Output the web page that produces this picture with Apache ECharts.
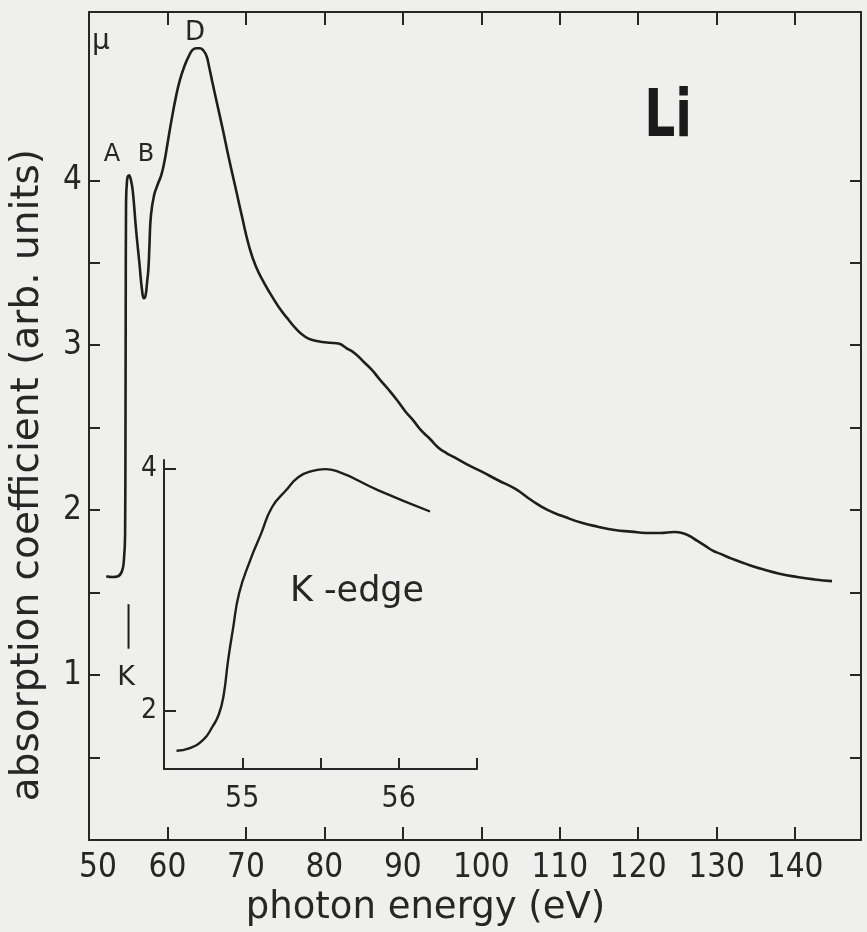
<!DOCTYPE html>
<html><head><meta charset="utf-8">
<script src="https://cdn.jsdelivr.net/npm/echarts@6/dist/echarts.min.js"></script>
<style>html,body{margin:0;padding:0;background:#efefed}#c{width:867px;height:932px}</style>
</head><body><div id="c"></div>
<script>
// ---- data ----
const mainEnergy = [52.2,53.0,53.7,54.2,54.45,54.6,54.65,54.68,54.72,54.85,55.1,55.35,55.59,56.0,56.44,56.77,57.0,57.2,57.4,57.58,57.7,57.9,58.3,58.8,59.2,59.6,60.0,60.5,61.1,61.6,62.15,62.7,63.2,63.7,64.1,64.6,65.0,65.3,65.7,66.3,67.0,67.8,68.7,69.5,70.4,71.25,72.3,73.4,74.5,75.5,76.5,77.6,78.6,79.7,80.8,81.8,82.9,83.9,85.0,86.06,87.1,88.2,89.3,90.3,91.4,92.4,93.5,94.5,95.6,96.6,98.3,100.0,102.2,104.3,106.4,108.5,110.6,112.7,114.85,117.0,119.1,121.0,122.8,124.6,125.6,126.5,127.5,128.5,129.5,130.5,132.0,134.0,136.0,138.0,140.25,142.5,144.7];
const mainMu = [1.60,1.595,1.60,1.63,1.70,1.85,2.5,3.2,3.85,4.0,4.03,4.0,3.93,3.70,3.49,3.33,3.285,3.30,3.38,3.47,3.6,3.79,3.91,3.98,4.03,4.11,4.22,4.36,4.51,4.61,4.69,4.75,4.79,4.80,4.80,4.785,4.75,4.69,4.60,4.47,4.32,4.14,3.95,3.78,3.60,3.48,3.38,3.29,3.21,3.15,3.095,3.05,3.03,3.02,3.015,3.01,2.98,2.95,2.90,2.85,2.79,2.73,2.665,2.60,2.54,2.48,2.43,2.38,2.345,2.32,2.275,2.235,2.18,2.13,2.06,2.00,1.96,1.925,1.90,1.88,1.87,1.862,1.862,1.868,1.862,1.845,1.815,1.785,1.755,1.735,1.705,1.67,1.64,1.615,1.595,1.58,1.57];
const insetEnergy = [54.58,54.66,54.75,54.81,54.85,54.88,54.91,54.94,54.98,55.05,55.12,55.19,55.28,55.36,55.45,55.53,55.60,55.87,56.20];
const insetMu = [1.67,1.69,1.76,1.87,1.97,2.12,2.42,2.67,2.97,3.24,3.46,3.68,3.82,3.93,3.98,3.995,3.98,3.82,3.645];
const kMarkerEnergy = [55.04,55.04];
const kMarkerMu = [1.16,1.43];
const xTickValues = [60,70,80,90,100,110,120,130,140];
const xLabelValues = [50,60,70,80,90,100,110,120,130,140];
const yTickValues = [0.5,1,1.5,2,2.5,3,3.5,4];
const yLabelValues = [1,2,3,4];
const insetXTicks = [55,55.5,56,56.5];
const insetXLabels = [55,56];
const insetYTicks = [2,4];

const ink = '#262626';
const narrow = '"Liberation Sans Narrow","DejaVu Sans Condensed",sans-serif';
const wide = '"DejaVu Sans",sans-serif';
const zip = (a,b) => a.map((v,i)=>[v,b[i]]);

const chart = echarts.init(document.getElementById('c'), null, {renderer:'canvas'});
const lineStyle = {color: ink, width: 2};
function frameX(pos, opts) {
  return Object.assign({
    type:'value', gridIndex:0, position:pos, min:50, max:148.4,
    axisLine:{show:true, onZero:false, lineStyle}, splitLine:{show:false},
    axisTick:{show:true, inside:true, length:13, lineStyle, customValues:xTickValues},
    axisLabel:{show:false}
  }, opts||{});
}
function frameY(pos, opts) {
  return Object.assign({
    type:'value', gridIndex:0, position:pos, min:0, max:5.02,
    axisLine:{show:true, onZero:false, lineStyle}, splitLine:{show:false},
    axisTick:{show:true, inside:true, length:11, lineStyle, customValues:yTickValues},
    axisLabel:{show:false}
  }, opts||{});
}
const option = {
  backgroundColor:'#efefed',
  animation:false,
  grid:[
    {left:86, top:12, width:775, height:830},
    {left:164, top:460, width:313, height:309}
  ],
  xAxis:[
    frameX('bottom', {
      axisLabel:{show:true, customValues:xLabelValues, margin:12, color:ink, fontFamily:narrow, fontSize:33,
        formatter:v => v===50 ? '{s|50}' : String(v),
        rich:{s:{padding:[0,0,0,18], fontFamily:narrow, fontSize:33, color:ink}}},
      name:'photon energy (eV)', nameLocation:'middle', nameGap:44,
      nameTextStyle:{fontFamily:wide, fontSize:37, color:ink, padding:[0,99,0,0]}
    }),
    frameX('top'),
    {
      type:'value', gridIndex:1, min:54.5, max:56.5, position:'bottom',
      axisLine:{show:true, onZero:false, lineStyle}, splitLine:{show:false},
      axisTick:{show:true, inside:true, length:11, lineStyle, customValues:insetXTicks},
      axisLabel:{show:true, customValues:insetXLabels, margin:15, color:ink, fontFamily:narrow, fontSize:30}
    }
  ],
  yAxis:[
    frameY('left', {
      axisLabel:{show:true, customValues:yLabelValues, margin:7, color:ink, fontFamily:narrow, fontSize:33},
      name:'absorption coefficient (arb. units)', nameLocation:'middle', nameGap:42,
      nameTextStyle:{fontFamily:wide, fontSize:39, color:ink, padding:[0,98,0,0]}
    }),
    frameY('right'),
    {
      type:'value', gridIndex:1, min:1.52, max:4.07, position:'left',
      axisLine:{show:true, onZero:false, lineStyle}, splitLine:{show:false},
      axisTick:{show:true, inside:true, length:12, lineStyle, customValues:insetYTicks},
      axisLabel:{show:true, customValues:insetYTicks, margin:7, color:ink, fontFamily:narrow, fontSize:28}
    }
  ],
  series:[
    {type:'line', name:'Li absorption', xAxisIndex:0, yAxisIndex:0, data:zip(mainEnergy, mainMu),
      showSymbol:false, smooth:0.5, lineStyle:{color:'#1e1e1e', width:2.6}},
    {type:'line', name:'K marker', xAxisIndex:0, yAxisIndex:0, data:zip(kMarkerEnergy, kMarkerMu),
      showSymbol:false, lineStyle:{color:'#1e1e1e', width:2}},
    {type:'line', name:'K-edge', xAxisIndex:2, yAxisIndex:2, data:zip(insetEnergy, insetMu),
      showSymbol:false, smooth:0.5, lineStyle:{color:'#1e1e1e', width:2.4}}
  ],
  graphic:[
    {type:'text', x:101, y:42, style:{text:'μ', font:'28px '+wide, fill:ink, textAlign:'center', textVerticalAlign:'middle'}},
    {type:'text', x:112, y:155, style:{text:'A', font:'24px '+wide, fill:ink, textAlign:'center', textVerticalAlign:'middle'}},
    {type:'text', x:146, y:155, style:{text:'B', font:'24px '+wide, fill:ink, textAlign:'center', textVerticalAlign:'middle'}},
    {type:'text', x:195, y:33, style:{text:'D', font:'26px '+wide, fill:ink, textAlign:'center', textVerticalAlign:'middle'}},
    {type:'text', x:126, y:678, style:{text:'K', font:'27px '+wide, fill:ink, textAlign:'center', textVerticalAlign:'middle'}},
    {type:'text', x:357, y:592, style:{text:'K -edge', font:'35px '+wide, fill:ink, textAlign:'center', textVerticalAlign:'middle'}},
    {type:'text', x:668, y:119, scaleX:0.82, style:{text:'Li', font:'bold 66px '+narrow, fill:'#1a1a1a', textAlign:'center', textVerticalAlign:'middle'}}
  ]
};
chart.setOption(option);
</script></body></html>
